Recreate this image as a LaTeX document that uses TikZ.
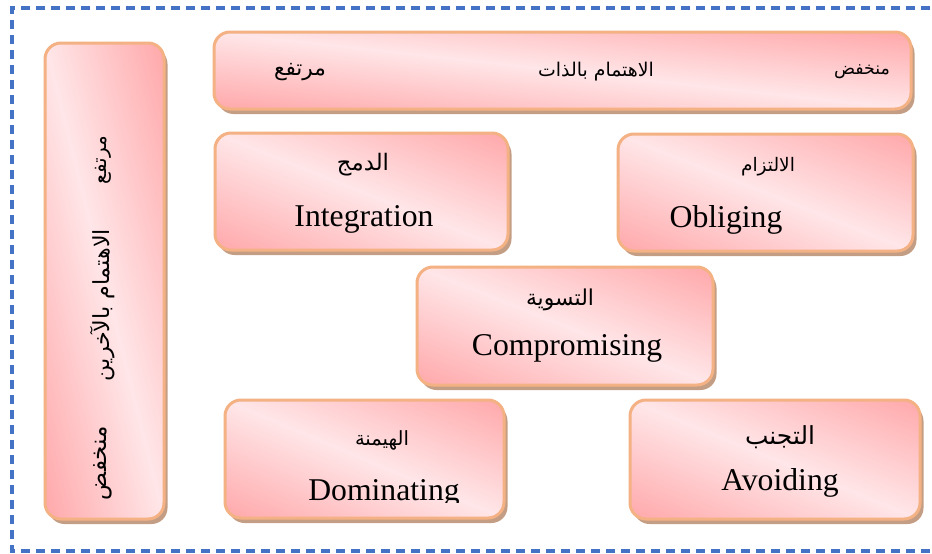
\documentclass[tikz,border=0pt]{standalone}
\usepackage{graphicx}
\usepackage{fontspec}
\setmainfont{Liberation Serif}
\newfontfamily\arabicfont[Script=Arabic]{DejaVu Sans}
\TeXXeTstate=1
\usetikzlibrary{shadows}

\definecolor{pinkdark}{RGB}{255,160,162}
\definecolor{pinklight}{RGB}{255,230,232}
\definecolor{boxedge}{RGB}{244,177,131}
\definecolor{boxshadow}{RGB}{196,158,132}
\definecolor{frameblue}{RGB}{68,114,196}

% Arabic label scaled to a given width (in pt)
\newcommand{\artxt}[2]{\resizebox{#1pt}{!}{\arabicfont #2}}

% rounded panel: name, centre x, centre y, width, height
% shadow first, then a diagonal gradient stretched to the panel, then the rim
\newcommand{\panel}[5]{%
  \node[panelbase, minimum width=#4pt, minimum height=#5pt] (#1) at (#2,#3) {};
  \begin{scope}
    \clip[rounded corners=16pt] (#1.south west) rectangle (#1.north east);
    \begin{scope}[transform canvas={shift={(#1.center)}, xscale=#4/100, yscale=#5/100}]
      \shade[top color=pinkdark, bottom color=pinkdark, middle color=pinklight,
             shading angle=-45] (-80pt,-80pt) rectangle (80pt,80pt);
    \end{scope}
  \end{scope}
  \draw[panelrim] (#1.south west) rectangle (#1.north east);
}

\begin{document}
\begin{tikzpicture}[x=1pt,y=-1pt,
  panelbase/.style={rectangle, rounded corners=16pt, fill=pinklight, inner sep=0pt, outer sep=0pt,
    drop shadow={shadow xshift=3.5pt, shadow yshift=-5pt, fill=boxshadow, opacity=1}},
  panelrim/.style={draw=boxedge, line width=3pt, rounded corners=16pt},
  lat/.style={font=\fontsize{31.7}{36}\selectfont, inner sep=0pt, anchor=base},
  arl/.style={inner sep=0pt}]
\useasboundingbox (0,0) rectangle (932,554);

% dashed outer frame (open on the right)
\draw[frameblue, line width=3.3pt, dash pattern=on 9pt off 6pt]
  (945,8) -- (12,8) -- (12,551) -- (945,551);

% panels
\panel{others}{104.5}{281}{119}{476}
\panel{self}{562.5}{70.5}{697}{77}
\panel{integ}{361.5}{191.5}{293}{117}
\panel{oblig}{765.5}{192.5}{295}{117}
\panel{comp}{565}{326}{296}{118}
\panel{domin}{364.5}{459}{279}{118}
\panel{avoid}{775}{459.5}{290}{119}

% concern for self (horizontal axis)
\node[arl] (selfhi)  at (300,72) {\artxt{52}{\beginR مرتفع\endR}};
\node[arl] (selfmid) at (596,72) {\artxt{116}{\beginR الاهتمام بالذات\endR}};
\node[arl] (selflo)  at (862,72) {\artxt{56}{\beginR منخفض\endR}};

% concern for others (vertical axis)
\node[arl, rotate=90] (othhi)  at (103,160) {\artxt{48}{\beginR مرتفع\endR}};
\node[arl, rotate=90] (othmid) at (103,305) {\artxt{152}{\beginR الاهتمام بالآخرين\endR}};
\node[arl, rotate=90] (othlo)  at (103,463) {\artxt{74}{\beginR منخفض\endR}};

% the five styles
\node[arl] (integar) at (363,165) {\artxt{52}{\beginR الدمج\endR}};
\node[lat] (integen) at (364,226) {Integration};

\node[arl] (obligar) at (768,167) {\artxt{54}{\beginR الالتزام\endR}};
\node[lat] (obligen) at (726,227) {Obliging};

\node[arl] (compar) at (560,300) {\artxt{68}{\beginR التسوية\endR}};
\node[lat] (compen) at (567,355) {Compromising};

\node[arl] (dominar) at (382,440) {\artxt{54}{\beginR الهيمنة\endR}};
\begin{scope}
  \clip (225,400) rectangle (504,502);
  \node[lat] (dominen) at (384,500) {Dominating};
\end{scope}

\node[arl] (avoidar) at (780,437) {\artxt{70}{\beginR التجنب\endR}};
\node[lat] (avoiden) at (780,490) {Avoiding};
\end{tikzpicture}
\end{document}
